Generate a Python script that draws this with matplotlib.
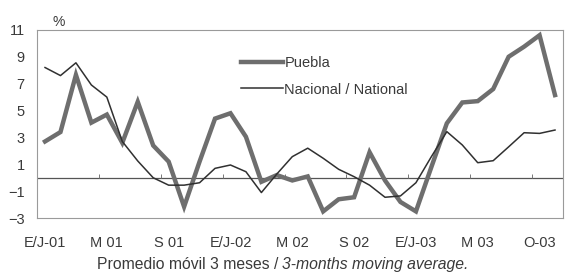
import matplotlib
matplotlib.use('Agg')
import matplotlib.pyplot as plt
import numpy as np

plt.rcParams['font.family'] = ['Liberation Sans', 'DejaVu Sans']

# monthly, Jan 2001 - Oct 2003
puebla = [2.7, 3.4, 7.65, 4.1, 4.7, 2.6, 5.65, 2.4, 1.2, -2.15,
          1.2, 4.4, 4.8, 3.05, -0.3, 0.2, -0.2, 0.1, -2.5, -1.6,
          -1.45, 1.9, -0.2, -1.8, -2.5, 0.8, 4.05, 5.6, 5.7, 6.6,
          9.0, 9.75, 10.6, 6.15]
nacional = [8.2, 7.6, 8.55, 6.9, 6.0, 2.7, 1.25, 0.0, -0.55, -0.55,
            -0.37, 0.7, 0.95, 0.45, -1.1, 0.28, 1.57, 2.2, 1.45, 0.63,
            0.08, -0.55, -1.45, -1.35, -0.37, 1.57, 3.43, 2.44, 1.12, 1.27,
            2.3, 3.35, 3.3, 3.55]
xlabels = ['E/J-01', 'M 01', 'S 01', 'E/J-02', 'M 02', 'S 02', 'E/J-03', 'M 03', 'O-03']
yticks = [-3, -1, 1, 3, 5, 7, 9, 11]

txt = '#3a3a3a'
x = np.arange(len(puebla))

fig = plt.figure(figsize=(5.65, 2.74), dpi=100)
ax = fig.add_axes([0.066, 0.204, 0.93, 0.687])

ax.axhline(0, color='#555555', lw=0.9, zorder=1)
ax.plot(np.arange(3.5, len(x) - 1, 4), np.full(8, 0.15), ls='none', marker='|',
        ms=3, color='#777777', markeredgewidth=0.7, zorder=1)

ax.plot(x, puebla, color='#6e6e6e', lw=3.2, solid_joinstyle='miter', label='Puebla', zorder=3)
ax.plot(x, nacional, color='#303030', lw=1.1, label='Nacional / National', zorder=4)

ax.set_xlim(-0.5, len(x) - 0.5)
ax.set_ylim(-3, 11)
ax.set_yticks(yticks)
ax.set_xticks(range(0, len(x), 4))
ax.set_xticklabels(xlabels)
ax.tick_params(length=0, labelsize=10.5, colors=txt)
ax.tick_params(axis='x', pad=13)
ax.tick_params(axis='y', pad=9)
for s in ax.spines.values():
    s.set_color('#9a9a9a')
    s.set_linewidth(0.8)

ax.text(0.028, 1.02, '%', transform=ax.transAxes, fontsize=10, color=txt)

leg = ax.legend(loc='upper left', bbox_to_anchor=(0.362, 0.93), frameon=False,
                fontsize=10.5, handlelength=2.9, handletextpad=0.1, labelspacing=0.85)
for t in leg.get_texts():
    t.set_color(txt)

fig.text(0.5, 0.02, 'Promedio móvil 3 meses / ', ha='right', fontsize=11.3, color=txt)
fig.text(0.5, 0.02, '3-months moving average.', ha='left', fontsize=11.3, color=txt, style='italic')

plt.savefig('out.png', dpi=100)
